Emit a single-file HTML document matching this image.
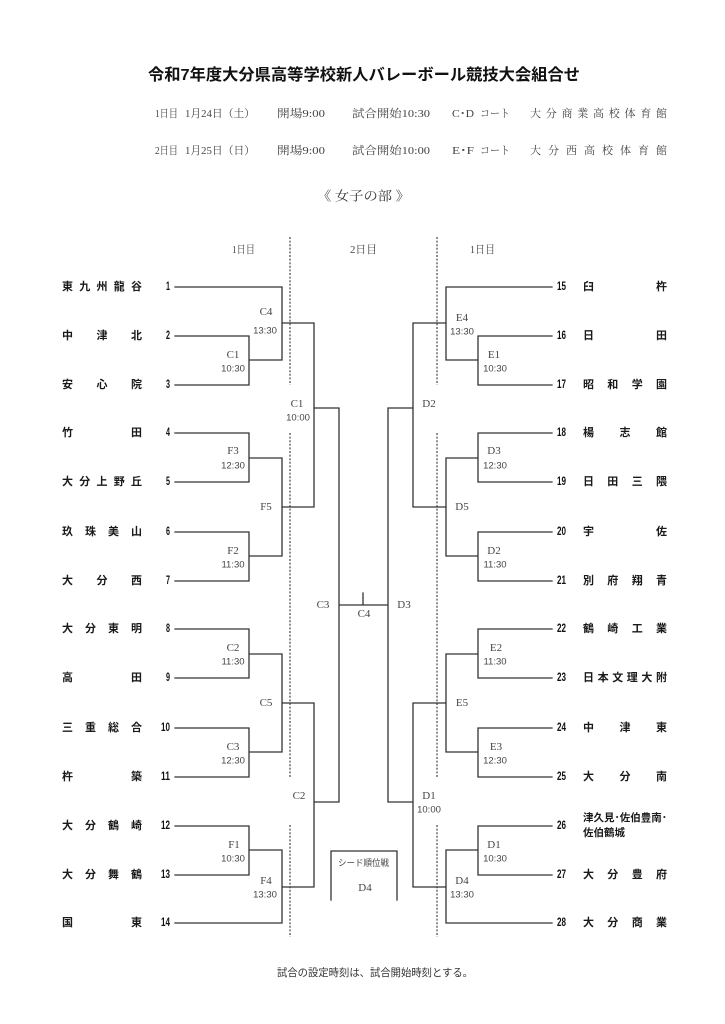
<!DOCTYPE html>
<html><head><meta charset="utf-8"><style>
html,body{margin:0;padding:0;background:#fff;}
svg{display:block;}
.t{font-family:"Liberation Sans","Noto Sans CJK JP",sans-serif;}
.s{font-family:"Liberation Serif","Noto Serif CJK SC",serif;}
.nm{font-family:"Liberation Sans","Noto Sans CJK JP",sans-serif;font-size:11px;font-weight:bold;fill:#1a1a1a;}
.num{font-family:"Liberation Sans",sans-serif;font-size:11.5px;font-weight:bold;fill:#111;}
.cd{font-family:"Liberation Serif","Noto Serif CJK SC",serif;font-size:11px;fill:#444;}
.tm{font-family:"Liberation Sans",sans-serif;font-size:9.5px;fill:#444;}
.hd{font-family:"Liberation Serif","Noto Serif CJK SC",serif;font-size:11px;fill:#444;}
</style></head><body>
<svg width="725" height="1024" viewBox="0 0 725 1024" xmlns="http://www.w3.org/2000/svg">
<rect width="725" height="1024" fill="#fff"/>

<!-- Title -->
<text x="148" y="80" class="t" font-size="16" font-weight="bold" fill="#111" textLength="432" lengthAdjust="spacingAndGlyphs">令和7年度大分県高等学校新人バレーボール競技大会組合せ</text>

<!-- Header line 1 -->
<g class="hd" dominant-baseline="central">
<text x="155" y="114" textLength="23" lengthAdjust="spacingAndGlyphs">1日目</text>
<text x="185" y="114" textLength="70" lengthAdjust="spacingAndGlyphs">1月24日（土）</text>
<text x="277" y="114" textLength="48" lengthAdjust="spacingAndGlyphs">開場9:00</text>
<text x="352" y="114" textLength="78" lengthAdjust="spacingAndGlyphs">試合開始10:30</text>
<text x="452" y="114" textLength="22" lengthAdjust="spacingAndGlyphs">C･D</text>
<text x="480" y="114" textLength="30" lengthAdjust="spacingAndGlyphs">コート</text>
<text x="530" y="114" textLength="137" lengthAdjust="spacing">大分商業高校体育館</text>
<text x="155" y="151" textLength="23" lengthAdjust="spacingAndGlyphs">2日目</text>
<text x="185" y="151" textLength="70" lengthAdjust="spacingAndGlyphs">1月25日（日）</text>
<text x="277" y="151" textLength="48" lengthAdjust="spacingAndGlyphs">開場9:00</text>
<text x="352" y="151" textLength="78" lengthAdjust="spacingAndGlyphs">試合開始10:00</text>
<text x="452" y="151" textLength="22" lengthAdjust="spacingAndGlyphs">E･F</text>
<text x="480" y="151" textLength="30" lengthAdjust="spacingAndGlyphs">コート</text>
<text x="530" y="151" textLength="137" lengthAdjust="spacing">大分西高校体育館</text>
</g>

<text x="317" y="196" class="s" font-size="13" fill="#333" dominant-baseline="central" textLength="93" lengthAdjust="spacingAndGlyphs">《 女子の部 》</text>

<!-- Day headers -->
<g class="hd" font-size="10" dominant-baseline="central">
<text x="232" y="250" textLength="23" lengthAdjust="spacingAndGlyphs">1日目</text>
<text x="350" y="250" textLength="27" lengthAdjust="spacingAndGlyphs">2日目</text>
<text x="470" y="250" textLength="25" lengthAdjust="spacingAndGlyphs">1日目</text>
</g>

<!-- Dashed lines -->
<g stroke="#555" stroke-width="1.3" stroke-dasharray="2,1.6" fill="none">
<path d="M290 237V385M290 433V777M290 825V937"/>
<path d="M437 237V385M437 433V777M437 825V937"/>
</g>

<!-- Bracket lines -->
<g stroke="#333" stroke-width="1.3" fill="none" stroke-linecap="square">
<path d="M175 287H282M175 336H249M175 385H249M249 336V385
M175 433H249M175 482H249M249 433V482
M175 532H249M175 581H249M249 532V581
M175 629H249M175 678H249M249 629V678
M175 728H249M175 777H249M249 728V777
M175 826H249M175 875H249M249 826V875
M175 923H282
M249 360H282M249 458H282M249 556H282M249 654H282M249 752H282M249 850H282
M282 287V360M282 458V556M282 654V752M282 850V923
M282 323H314M282 507H314M282 703H314M282 887H314
M314 323V507M314 703V887
M314 408H339M314 802H339M339 408V802
M339 605H388M363 593V605
M388 408V802M388 408H413M388 802H413
M413 323V507M413 703V887
M413 323H446M413 507H446M413 703H446M413 887H446
M446 287V360M446 458V556M446 654V752M446 850V923
M446 360H478M446 458H478M446 556H478M446 654H478M446 752H478M446 850H478
M478 336V385M478 433V482M478 532V581M478 629V678M478 728V777M478 826V875
M446 287H552M478 336H552M478 385H552M478 433H552M478 482H552M478 532H552M478 581H552
M478 629H552M478 678H552M478 728H552M478 777H552M478 826H552M478 875H552M446 923H552
M331 900V851H397V900"/>
</g>

<!-- Box text -->
<text x="338" y="863" class="t" font-size="9" fill="#444" dominant-baseline="central" textLength="51" lengthAdjust="spacingAndGlyphs">シード順位戦</text>
<text x="365" y="888" class="cd" font-size="12" text-anchor="middle" dominant-baseline="central">D4</text>

<!-- Left labels -->
<g text-anchor="middle" dominant-baseline="central">
<text class="cd" x="266" y="312">C4</text><text class="tm" x="265" y="331">13:30</text>
<text class="cd" x="233" y="355">C1</text><text class="tm" x="233" y="369">10:30</text>
<text class="cd" x="297" y="404">C1</text><text class="tm" x="298" y="418">10:00</text>
<text class="cd" x="233" y="451">F3</text><text class="tm" x="233" y="466">12:30</text>
<text class="cd" x="266" y="507">F5</text>
<text class="cd" x="233" y="551">F2</text><text class="tm" x="233" y="565">11:30</text>
<text class="cd" x="323" y="605">C3</text>
<text class="cd" x="364" y="614">C4</text>
<text class="cd" x="404" y="605">D3</text>
<text class="cd" x="233" y="648">C2</text><text class="tm" x="233" y="662">11:30</text>
<text class="cd" x="266" y="703">C5</text>
<text class="cd" x="233" y="747">C3</text><text class="tm" x="233" y="761">12:30</text>
<text class="cd" x="299" y="796">C2</text>
<text class="cd" x="234" y="845">F1</text><text class="tm" x="233" y="859">10:30</text>
<text class="cd" x="266" y="881">F4</text><text class="tm" x="265" y="895">13:30</text>
<!-- Right labels -->
<text class="cd" x="462" y="318">E4</text><text class="tm" x="462" y="332">13:30</text>
<text class="cd" x="494" y="355">E1</text><text class="tm" x="495" y="369">10:30</text>
<text class="cd" x="429" y="404">D2</text>
<text class="cd" x="494" y="451">D3</text><text class="tm" x="495" y="466">12:30</text>
<text class="cd" x="462" y="507">D5</text>
<text class="cd" x="494" y="551">D2</text><text class="tm" x="495" y="565">11:30</text>
<text class="cd" x="496" y="648">E2</text><text class="tm" x="495" y="662">11:30</text>
<text class="cd" x="462" y="703">E5</text>
<text class="cd" x="496" y="747">E3</text><text class="tm" x="495" y="761">12:30</text>
<text class="cd" x="429" y="796">D1</text><text class="tm" x="429" y="810">10:00</text>
<text class="cd" x="494" y="845">D1</text><text class="tm" x="495" y="859">10:30</text>
<text class="cd" x="462" y="881">D4</text><text class="tm" x="462" y="895">13:30</text>
</g>

<!-- Left numbers -->
<g class="num" text-anchor="end" dominant-baseline="central">
<text x="170" y="287" textLength="4" lengthAdjust="spacingAndGlyphs">1</text>
<text x="170" y="336" textLength="4" lengthAdjust="spacingAndGlyphs">2</text>
<text x="170" y="385" textLength="4" lengthAdjust="spacingAndGlyphs">3</text>
<text x="170" y="433" textLength="4" lengthAdjust="spacingAndGlyphs">4</text>
<text x="170" y="482" textLength="4" lengthAdjust="spacingAndGlyphs">5</text>
<text x="170" y="532" textLength="4" lengthAdjust="spacingAndGlyphs">6</text>
<text x="170" y="581" textLength="4" lengthAdjust="spacingAndGlyphs">7</text>
<text x="170" y="629" textLength="4" lengthAdjust="spacingAndGlyphs">8</text>
<text x="170" y="678" textLength="4" lengthAdjust="spacingAndGlyphs">9</text>
<text x="170" y="728" textLength="9" lengthAdjust="spacingAndGlyphs">10</text>
<text x="170" y="777" textLength="9" lengthAdjust="spacingAndGlyphs">11</text>
<text x="170" y="826" textLength="9" lengthAdjust="spacingAndGlyphs">12</text>
<text x="170" y="875" textLength="9" lengthAdjust="spacingAndGlyphs">13</text>
<text x="170" y="923" textLength="9" lengthAdjust="spacingAndGlyphs">14</text>
</g>
<!-- Right numbers -->
<g class="num" dominant-baseline="central">
<text x="557" y="287" textLength="9" lengthAdjust="spacingAndGlyphs">15</text>
<text x="557" y="336" textLength="9" lengthAdjust="spacingAndGlyphs">16</text>
<text x="557" y="385" textLength="9" lengthAdjust="spacingAndGlyphs">17</text>
<text x="557" y="433" textLength="9" lengthAdjust="spacingAndGlyphs">18</text>
<text x="557" y="482" textLength="9" lengthAdjust="spacingAndGlyphs">19</text>
<text x="557" y="532" textLength="9" lengthAdjust="spacingAndGlyphs">20</text>
<text x="557" y="581" textLength="9" lengthAdjust="spacingAndGlyphs">21</text>
<text x="557" y="629" textLength="9" lengthAdjust="spacingAndGlyphs">22</text>
<text x="557" y="678" textLength="9" lengthAdjust="spacingAndGlyphs">23</text>
<text x="557" y="728" textLength="9" lengthAdjust="spacingAndGlyphs">24</text>
<text x="557" y="777" textLength="9" lengthAdjust="spacingAndGlyphs">25</text>
<text x="557" y="826" textLength="9" lengthAdjust="spacingAndGlyphs">26</text>
<text x="557" y="875" textLength="9" lengthAdjust="spacingAndGlyphs">27</text>
<text x="557" y="923" textLength="9" lengthAdjust="spacingAndGlyphs">28</text>
</g>

<!-- Left names -->
<g class="nm" dominant-baseline="central">
<text x="62 79.25 96.5 113.75 131" y="287">東九州龍谷</text>
<text x="62 96.5 131" y="336">中津北</text>
<text x="62 96.5 131" y="385">安心院</text>
<text x="62 131" y="433">竹田</text>
<text x="62 79.25 96.5 113.75 131" y="482">大分上野丘</text>
<text x="62 85 108 131" y="532">玖珠美山</text>
<text x="62 96.5 131" y="581">大分西</text>
<text x="62 85 108 131" y="629">大分東明</text>
<text x="62 131" y="678">高田</text>
<text x="62 85 108 131" y="728">三重総合</text>
<text x="62 131" y="777">杵築</text>
<text x="62 85 108 131" y="826">大分鶴崎</text>
<text x="62 85 108 131" y="875">大分舞鶴</text>
<text x="62 131" y="923">国東</text>
</g>
<!-- Right names -->
<g class="nm" dominant-baseline="central">
<text x="583 656" y="287">臼杵</text>
<text x="583 656" y="336">日田</text>
<text x="583 607.3 631.7 656" y="385">昭和学園</text>
<text x="583 619.5 656" y="433">楊志館</text>
<text x="583 607.3 631.7 656" y="482">日田三隈</text>
<text x="583 656" y="532">宇佐</text>
<text x="583 607.3 631.7 656" y="581">別府翔青</text>
<text x="583 607.3 631.7 656" y="629">鶴崎工業</text>
<text x="583 597.6 612.2 626.8 641.4 656" y="678">日本文理大附</text>
<text x="583 619.5 656" y="728">中津東</text>
<text x="583 619.5 656" y="777">大分南</text>
<text x="583" y="818" font-size="10.5">津久見･佐伯豊南･</text>
<text x="583" y="833" font-size="10.5">佐伯鶴城</text>
<text x="583 607.3 631.7 656" y="875">大分豊府</text>
<text x="583 607.3 631.7 656" y="923">大分商業</text>
</g>

<!-- Footnote -->
<text x="277" y="973" class="t" font-size="10.5" fill="#333" dominant-baseline="central" textLength="196" lengthAdjust="spacingAndGlyphs">試合の設定時刻は、試合開始時刻とする。</text>
</svg>
</body></html>
